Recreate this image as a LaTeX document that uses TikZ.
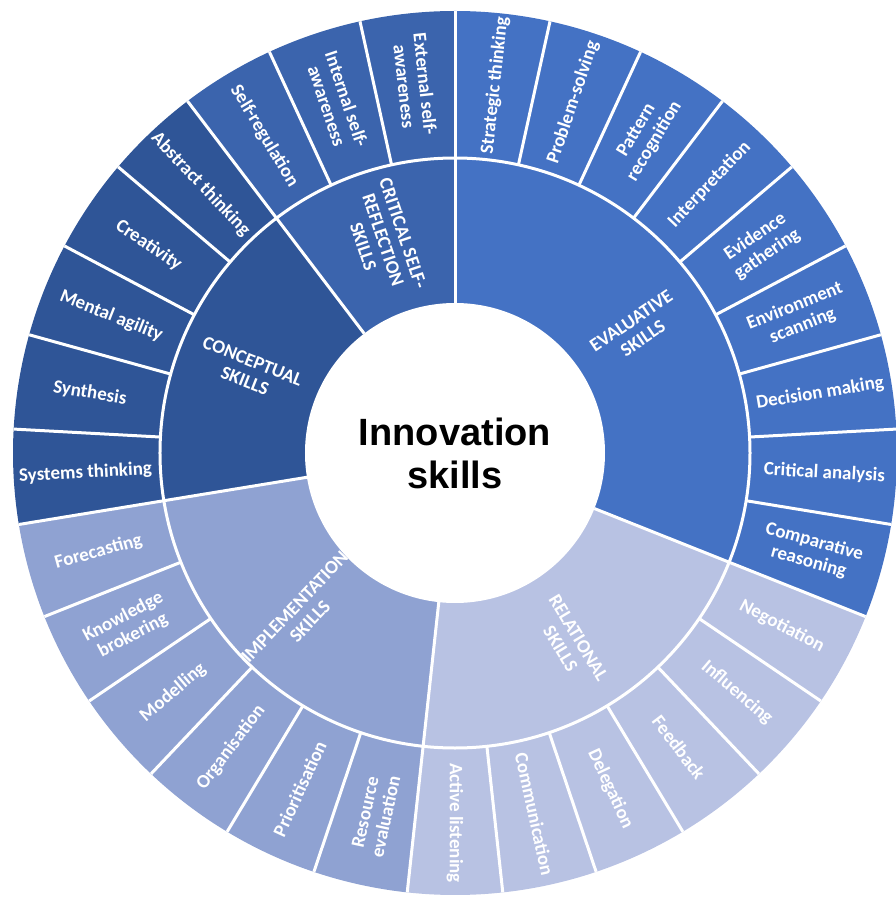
\documentclass[tikz,border=0pt]{standalone}
\usepackage{fontspec}
\setmainfont{Carlito}
\newfontfamily\arialfont{Liberation Sans}
\definecolor{evalc}{RGB}{68,114,196}
\definecolor{relc}{RGB}{184,194,227}
\definecolor{implc}{RGB}{143,162,210}
\definecolor{concc}{RGB}{47,85,151}
\definecolor{critc}{RGB}{59,100,173}
\begin{document}
\begin{tikzpicture}[leaf/.style={text=white, font=\bfseries\fontsize{19}{21}\selectfont, align=center, inner sep=0pt},
  group/.style={leaf},
  sep/.style={white, line width=3pt}]
\useasboundingbox (-455pt,-446pt) rectangle (440pt,453pt);
% sectors
\fill[evalc] (0,0) -- (90:442pt) arc[start angle=90, end angle=-21.724, radius=442pt] -- cycle;
\fill[relc] (0,0) -- (-21.724:442pt) arc[start angle=-21.724, end angle=-96.207, radius=442pt] -- cycle;
\fill[implc] (0,0) -- (-96.207:442pt) arc[start angle=-96.207, end angle=-170.690, radius=442pt] -- cycle;
\fill[concc] (0,0) -- (-170.690:442pt) arc[start angle=-170.690, end angle=-232.759, radius=442pt] -- cycle;
\fill[critc] (0,0) -- (127.241:442pt) arc[start angle=127.241, end angle=90, radius=442pt] -- cycle;

% white gaps
\draw[sep] (0,0) circle[radius=295pt];
\foreach \k in {0,...,28}
  \draw[sep] (90-\k*12.41379:295pt) -- (90-\k*12.41379:442pt);
\foreach \a in {90,-21.724,-96.207,-170.690,127.241}
  \draw[sep] (\a:150pt) -- (\a:295pt);
\fill[white] (0,0) circle[radius=150pt];

\node[font=\arialfont\bfseries\fontsize{38}{43}\selectfont, align=center] (innov) at (0,0) {Innovation\\skills};

% inner ring
\node[group, rotate=34.14] (eval) at (34.14:220pt) {EVALUATIVE\\SKILLS};
\node[group, rotate=-58.97] (rel) at (-58.97:222pt) {RELATIONAL\\SKILLS};
\node[group, rotate=46.55] (impl) at (-133.45:222pt) {IMPLEMENTATION\\SKILLS};
\node[group, rotate=-21.72] (conc) at (158.28:222pt) {CONCEPTUAL\\SKILLS};
\node[group, rotate=-71.38] (crit) at (108.62:225pt) {CRITICAL SELF-\\REFLECTION\\SKILLS};

% outer ring
\node[leaf, rotate=83.79] (e1) at (83.79:370pt) {Strategic thinking};
\node[leaf, rotate=71.38] (e2) at (71.38:370pt) {Problem-solving};
\node[leaf, rotate=58.97] (e3) at (58.97:370pt) {Pattern\\recognition};
\node[leaf, rotate=46.55] (e4) at (46.55:370pt) {Interpretation};
\node[leaf, rotate=34.14] (e5) at (34.14:370pt) {Evidence\\gathering};
\node[leaf, rotate=21.72] (e6) at (21.72:370pt) {Environment\\scanning};
\node[leaf, rotate=9.31] (e7) at (9.31:370pt) {Decision making};
\node[leaf, rotate=-3.10] (e8) at (-3.10:370pt) {Critical analysis};
\node[leaf, rotate=-15.52] (e9) at (-15.52:370pt) {Comparative\\reasoning};

\node[leaf, rotate=-27.93] (r1) at (-27.93:370pt) {Negotiation};
\node[leaf, rotate=-40.34] (r2) at (-40.34:370pt) {Influencing};
\node[leaf, rotate=-52.76] (r3) at (-52.76:370pt) {Feedback};
\node[leaf, rotate=-65.17] (r4) at (-65.17:370pt) {Delegation};
\node[leaf, rotate=-77.59] (r5) at (-77.59:370pt) {Communication};
\node[leaf, rotate=-90] (r6) at (-90:370pt) {Active listening};

\node[leaf, rotate=77.59] (i1) at (-102.41:370pt) {Resource\\evaluation};
\node[leaf, rotate=65.17] (i2) at (-114.83:370pt) {Prioritisation};
\node[leaf, rotate=52.76] (i3) at (-127.24:370pt) {Organisation};
\node[leaf, rotate=40.34] (i4) at (-139.66:370pt) {Modelling};
\node[leaf, rotate=27.93] (i5) at (-152.07:370pt) {Knowledge\\brokering};
\node[leaf, rotate=15.52] (i6) at (-164.48:370pt) {Forecasting};

\node[leaf, rotate=3.10] (c1) at (-176.90:370pt) {Systems thinking};
\node[leaf, rotate=-9.31] (c2) at (170.69:370pt) {Synthesis};
\node[leaf, rotate=-21.72] (c3) at (158.28:370pt) {Mental agility};
\node[leaf, rotate=-34.14] (c4) at (145.86:370pt) {Creativity};
\node[leaf, rotate=-46.55] (c5) at (133.45:370pt) {Abstract thinking};

\node[leaf, rotate=-58.97] (s1) at (121.03:370pt) {Self-regulation};
\node[leaf, rotate=-71.38] (s2) at (108.62:370pt) {Internal self-\\awareness};
\node[leaf, rotate=-83.79] (s3) at (96.21:370pt) {External self-\\awareness};
\end{tikzpicture}
\end{document}
